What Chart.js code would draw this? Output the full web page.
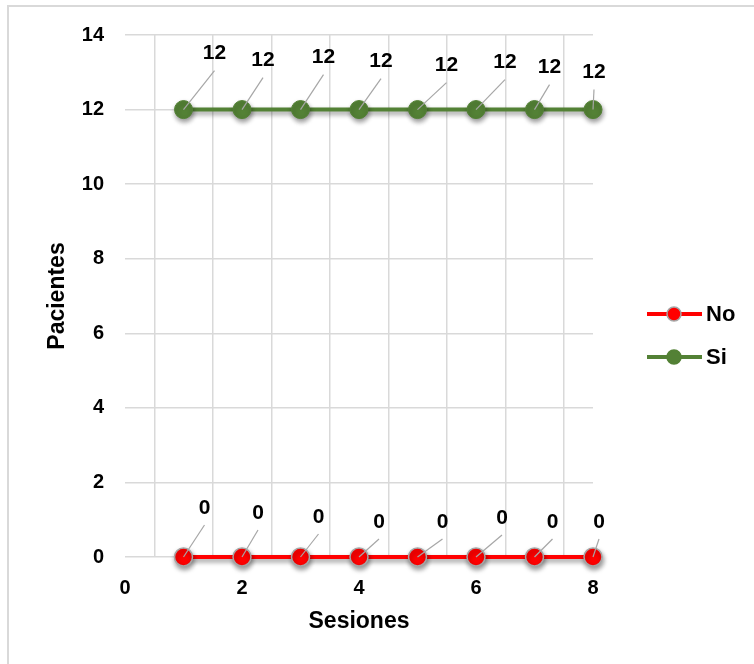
<!DOCTYPE html>
<html>
<head>
<meta charset="utf-8">
<script src="https://cdn.jsdelivr.net/npm/chart.js@4/dist/chart.umd.min.js"></script>
<style>
  html, body { margin: 0; padding: 0; background: #ffffff; }
  #wrap { width: 754px; height: 664px; position: relative; }
</style>
</head>
<body>
<div id="wrap"><canvas id="chart" width="754" height="664"></canvas></div>
<script>
// Sessions and patient counts per answer
const sesiones = [1, 2, 3, 4, 5, 6, 7, 8];
const pacientesNo = [0, 0, 0, 0, 0, 0, 0, 0];
const pacientesSi = [12, 12, 12, 12, 12, 12, 12, 12];
const seriesNames = ['No', 'Si'];
const xTickLabels = [0, 2, 4, 6, 8];
const yTickLabels = [0, 2, 4, 6, 8, 10, 12, 14];

const toPoints = (vals) => sesiones.map((s, i) => ({ x: s, y: vals[i] }));

const FONT = '"Liberation Sans", Arial, sans-serif';
const RED = '#ff0000';
const GREEN = '#538135';
const GRID = '#d9d9d9';

// Hand-placed value label offsets (px from each point), per series
const labelOffsets = [
  [[21, -49], [16, -44], [18, -40], [20, -35], [25, -35], [26, -39], [18, -35], [6, -35]],
  [[31, -56], [21, -49], [23, -52], [22, -48], [29, -44], [29, -47], [15, -42], [1, -37]]
];

const decor = {
  id: 'decor',
  beforeDatasetsDraw(chart) {
    const ctx = chart.ctx;
    ctx.save();
    ctx.shadowColor = 'rgba(0,0,0,0.42)';
    ctx.shadowBlur = 5;
    ctx.shadowOffsetX = 1;
    ctx.shadowOffsetY = 3;
  },
  afterDatasetsDraw(chart) {
    const ctx = chart.ctx;
    ctx.restore();
    // value labels with leader lines
    ctx.save();
    chart.data.datasets.forEach((ds, di) => {
      const meta = chart.getDatasetMeta(di);
      meta.data.forEach((pt, i) => {
        const [dx, dy] = labelOffsets[di][i];
        const lx = pt.x + dx, ly = pt.y + dy;
        ctx.strokeStyle = '#a6a6a6';
        ctx.lineWidth = 1.2;
        ctx.beginPath();
        ctx.moveTo(pt.x, pt.y);
        ctx.lineTo(lx, ly + 17);
        ctx.stroke();
        ctx.fillStyle = '#000000';
        ctx.font = 'bold 21px ' + FONT;
        ctx.textAlign = 'center';
        ctx.textBaseline = 'middle';
        ctx.fillText(String(ds.data[i].y), lx, ly);
      });
    });
    ctx.restore();
  },
  afterDraw(chart) {
    const ctx = chart.ctx;
    ctx.save();
    // frame
    ctx.strokeStyle = GRID;
    ctx.lineWidth = 2;
    ctx.beginPath();
    ctx.moveTo(8, 664);
    ctx.lineTo(8, 6);
    ctx.lineTo(754, 6);
    ctx.stroke();
    // legend
    const rows = [314, 357];
    chart.data.datasets.forEach((ds, di) => {
      const y = rows[di];
      ctx.strokeStyle = ds.borderColor;
      ctx.lineWidth = 4;
      ctx.beginPath();
      ctx.moveTo(647, y);
      ctx.lineTo(702, y);
      ctx.stroke();
      ctx.beginPath();
      ctx.arc(674, y, 7, 0, Math.PI * 2);
      ctx.fillStyle = ds.pointBackgroundColor;
      ctx.fill();
      ctx.lineWidth = 1.5;
      ctx.strokeStyle = ds.pointBorderColor;
      ctx.stroke();
      ctx.fillStyle = '#000000';
      ctx.font = 'bold 22px ' + FONT;
      ctx.textAlign = 'left';
      ctx.textBaseline = 'middle';
      ctx.fillText(ds.label, 706, y + 1);
    });
    ctx.restore();
  }
};

new Chart(document.getElementById('chart'), {
  type: 'scatter',
  data: {
    datasets: [
      {
        label: seriesNames[0],
        data: toPoints(pacientesNo),
        showLine: true,
        clip: false,
        borderColor: RED,
        borderWidth: 4,
        pointRadius: 9,
        pointBackgroundColor: RED,
        pointBorderColor: '#a6a6a6',
        pointBorderWidth: 1.5
      },
      {
        label: seriesNames[1],
        data: toPoints(pacientesSi),
        showLine: true,
        clip: false,
        borderColor: GREEN,
        borderWidth: 4,
        pointRadius: 9,
        pointBackgroundColor: GREEN,
        pointBorderColor: GREEN,
        pointBorderWidth: 1
      }
    ]
  },
  options: {
    responsive: false,
    animation: false,
    events: [],
    layout: { padding: { left: 0, right: 161, top: 35, bottom: 0 } },
    plugins: {
      legend: { display: false },
      tooltip: { enabled: false }
    },
    scales: {
      x: {
        type: 'linear',
        min: 0,
        max: 8,
        afterFit: (s) => { s.height = 107; },
        afterBuildTicks: (s) => {
          const t = [];
          for (let v = 0; v <= 8; v += 0.5) t.push({ value: v });
          s.ticks = t;
        },
        ticks: {
          autoSkip: false,
          maxRotation: 0,
          padding: 19,
          color: '#000000',
          font: { family: FONT, size: 20, weight: 'bold' },
          callback: (v) => (xTickLabels.includes(v) ? String(v) : '')
        },
        grid: {
          drawTicks: false,
          lineWidth: 1.5,
          color: (c) => (c.tick && c.tick.value % 1 === 0.5 ? GRID : 'rgba(0,0,0,0)')
        },
        border: { display: false },
        title: {
          display: true,
          text: 'Sesiones',
          color: '#000000',
          font: { family: FONT, size: 23, weight: 'bold' },
          padding: { top: 0, bottom: 29 }
        }
      },
      y: {
        min: 0,
        max: 14,
        afterFit: (s) => { s.width = 125; },
        afterBuildTicks: (s) => { s.ticks = yTickLabels.map((v) => ({ value: v })); },
        ticks: {
          padding: 21,
          color: '#000000',
          font: { family: FONT, size: 20, weight: 'bold' }
        },
        grid: {
          drawTicks: false,
          lineWidth: 1.5,
          color: GRID
        },
        border: { display: false },
        title: {
          display: true,
          text: 'Pacientes',
          color: '#000000',
          font: { family: FONT, size: 23, weight: 'bold' },
          padding: { top: 44, bottom: 0 }
        }
      }
    }
  },
  plugins: [decor]
});
</script>
</body>
</html>
